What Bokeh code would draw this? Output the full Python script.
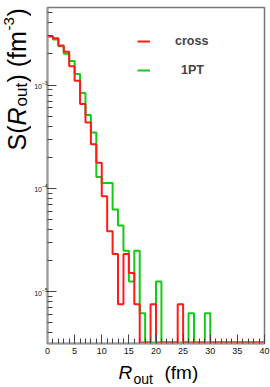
import math
from bokeh.plotting import figure
from bokeh.layouts import row, column
from bokeh.models import (Range1d, LogTicker, SingleIntervalTicker, Label,
                          Legend, LegendItem)
from bokeh.embed import file_html
from bokeh.resources import INLINE

# ---- data ----
bin_edges = list(range(0, 41))          # R_out bin edges (fm), 1 fm bins
cross = [2.97e-3, 2.83e-3, 2.41e-3, 2.10e-3, 1.52e-3, 1.10e-3, 6.54e-4, 4.33e-4,
         2.67e-4, 1.77e-4, 8.42e-5, 3.85e-5, 2.32e-5, 7.6e-6, 2.32e-5, 1.52e-5,
         7.6e-6, 0, 0, 7.6e-6, 0, 0, 0, 0, 7.6e-6, 0, 0, 0, 0, 0,
         0, 0, 0, 0, 0, 0, 0, 0, 0, 0]
one_pt = [2.95e-3, 2.75e-3, 2.37e-3, 2.01e-3, 1.71e-3, 1.28e-3, 8.36e-4, 5.12e-4,
          3.47e-4, 1.29e-4, 1.13e-4, 1.13e-4, 6.25e-5, 4.37e-5, 2.50e-5, 1.26e-5,
          2.50e-5, 6.2e-6, 0, 0, 1.26e-5, 0, 0, 0, 0, 0, 6.2e-6, 0, 0, 6.2e-6,
          0, 0, 0, 0, 0, 0, 0, 0, 0, 0]
series_names = ["cross", "1PT"]

Y_MIN, Y_MAX = 10 ** -5.5, 10 ** -2.25
FLOOR = Y_MIN * 1.025  # empty bins are drawn along the bottom edge

WY = 31      # width of the y-title strip
HM = 360     # height of the main figure
FL = 47      # page x of the main frame's left edge
FONT = "Liberation Sans"
MID = 0.3465  # (ascent - descent) / 2 in em, for middle-anchored text


def blank(w, h):
    f = figure(width=w, height=h, output_backend="svg", toolbar_location=None,
               x_axis_location=None, y_axis_location=None,
               min_border=0, x_range=Range1d(0, 1), y_range=Range1d(0, 1))
    f.grid.visible = False
    f.outline_line_color = None
    f.background_fill_color = "white"
    f.border_fill_color = "white"
    return f


p = figure(width=270 - WY, height=HM, output_backend="svg", toolbar_location=None,
           x_range=Range1d(0, 40), y_range=Range1d(Y_MIN, Y_MAX),
           y_axis_type="log", min_border_left=FL - WY, min_border_right=6,
           min_border_top=7, min_border_bottom=HM - 343)
p.grid.visible = False
p.background_fill_color = "white"
p.border_fill_color = "white"
p.outline_line_color = "#777777"
p.outline_line_width = 1.5


def step_xy(vals):
    v = [max(a, FLOOR) for a in vals]
    return bin_edges, v + [v[-1]]


gx, gy = step_xy(one_pt)
rx, ry = step_xy(cross)
g_r = p.step(gx, gy, mode="after", line_color="#11cc11", line_width=2)
r_r = p.step(rx, ry, mode="after", line_color="#ff1a1a", line_width=2)

# axes
xa = p.xaxis[0]
xa.ticker = SingleIntervalTicker(interval=5, num_minor_ticks=5)
ya = p.yaxis[0]
ya.ticker = LogTicker(num_minor_ticks=10)
for ax in (xa, ya):
    ax.axis_line_color = "#999999"
    ax.axis_line_width = 2
    ax.major_tick_line_color = "#444444"
    ax.minor_tick_line_color = "#444444"
    ax.major_tick_in = 9
    ax.major_tick_out = 0
    ax.minor_tick_in = 5
    ax.minor_tick_out = 0
    ax.major_label_text_font = FONT
    ax.major_label_text_color = "#111111"
xa.major_label_text_font_size = "9px"
xa.major_label_standoff = 4
ya.major_label_text_font_size = "7px"
ya.major_label_standoff = 0


def legend_for(name, renderer, top_py, text_left):
    lg = Legend(items=[LegendItem(label=name, renderers=[renderer])],
                location=(137 - FL, 343 - (top_py + 20)),
                glyph_width=13, glyph_height=20, label_height=20,
                label_standoff=text_left - 150, padding=0, margin=0,
                background_fill_alpha=0, border_line_color=None,
                label_text_font=FONT, label_text_font_size="12.5px",
                label_text_font_style="bold")
    p.add_layout(lg)


legend_for(series_names[0], r_r, 30.7, 175)
legend_for(series_names[1], g_r, 60.2, 181)

# ---- title strips (texts placed by their baseline, in page pixels) ----
yt = blank(WY, 387)
xt = blank(270 - WY, 387 - HM)


def hlab(text, px, base_py, size, style="normal"):
    # horizontal text in the x-title strip (its frame is aligned with the main frame)
    xt.add_layout(Label(x=px - FL, y=387 - (base_py - MID * size),
                        x_units="screen", y_units="screen", text=text,
                        text_font=FONT, text_font_size=f"{size}px",
                        text_font_style=style, text_align="left",
                        text_baseline="middle", text_color="black"))


def vlab(text, base_px, start_py, size, style="normal"):
    # text rotated to read upwards, in the y-title strip
    yt.add_layout(Label(x=base_px - MID * size, y=387 - start_py,
                        x_units="screen", y_units="screen", text=text,
                        text_font=FONT, text_font_size=f"{size}px",
                        text_font_style=style, text_align="left",
                        text_baseline="middle", angle=math.pi / 2,
                        text_color="black"))


# x axis title: R_out (fm)
hlab("R", 118, 379, 19, "italic")
hlab("out", 133, 383, 14)
hlab("(fm)", 164, 379, 19)

# y axis title: S(R_out) (fm^-3)
vlab("S(", 25.5, 150, 25)
vlab("R", 25.5, 125, 25, "italic")
vlab("out", 27.3, 106, 17)
vlab(") (fm", 25.5, 82, 25)
vlab("-3", 13.8, 30, 15)
vlab(")", 25.5, 16, 25)

layout = row(yt, column(p, xt, spacing=0), spacing=0)
open("out.html", "w").write(file_html(layout, INLINE))
